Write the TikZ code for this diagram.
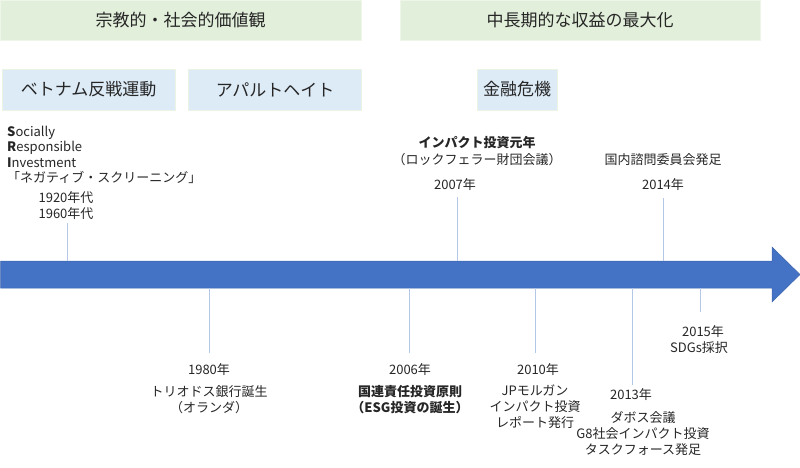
\documentclass[tikz,border=0pt]{standalone}
\usepackage{fontspec}
\setmainfont{Noto Sans CJK JP}
\usetikzlibrary{positioning}
\definecolor{valueFl}{HTML}{E2EFDA}
\definecolor{valueBd}{HTML}{EEF6E9}
\definecolor{eventFl}{HTML}{DDEBF7}
\definecolor{eventBd}{HTML}{EAF3E4}
\definecolor{axisFl}{HTML}{4472C4}
\definecolor{axisBd}{HTML}{3F66AE}
\definecolor{tickClr}{HTML}{B4C7E7}
\definecolor{txtClr}{HTML}{262626}
\newcommand{\hd}{\fontsize{17}{20}\selectfont}
\newcommand{\tx}{\fontsize{13}{16}\selectfont}

\begin{document}
\begin{tikzpicture}[
  x=1pt, y=-1pt,
  valuebox/.style={draw=valueBd, fill=valueFl, line width=0.6pt,
                   minimum height=40pt, inner sep=0pt, font=\hd, text=txtClr},
  eventbox/.style={draw=eventBd, fill=eventFl, line width=0.6pt,
                   minimum height=41pt, inner sep=0pt, font=\hd, text=txtClr},
  label/.style={inner sep=0pt, font=\tx, text=txtClr, align=center},
  tick/.style={draw=tickClr, line width=0.9pt},
]
\useasboundingbox (0,0) rectangle (800,467);

% ---------- value bands ----------
\node[valuebox, minimum width=361pt] (social) at (180.5,20) {宗教的・社会的価値観};
\node[valuebox, minimum width=360pt] (profit) at (580,20) {中長期的な収益の最大化};

% ---------- events ----------
\node[eventbox, minimum width=173pt] (vietnam) at (88.5,89.5) {ベトナム反戦運動};
\node[eventbox, minimum width=173pt, right=13pt of vietnam] (apartheid) {アパルトヘイト};
\node[eventbox, minimum width=80pt] (crisis) at (517,89.5) {金融危機};

% ---------- time axis ----------
\draw[draw=axisBd, fill=axisFl, line width=0.5pt]
  (0.5,261) -- (772,261) -- (772,247) -- (800,274.5) -- (772,302)
  -- (772,288) -- (0.5,288) -- cycle;
\coordinate (top) at (0,261);
\coordinate (bot) at (0,288);

% ---------- above the axis ----------
\node[label, anchor=west, align=left, font=\fontsize{13}{15.5}\selectfont] (sri) at (7,155)
  {\textbf{S}ocially\\ \textbf{R}esponsible\\ \textbf{I}nvestment\\ 「ネガティブ・スクリーニング」};
\node[label, align=left] (y1920) at (66,205.5) {1920年代\\1960年代};
\coordinate (e1920) at (67,223);

\node[label, font=\fontsize{13}{17}\selectfont] (d2007) at (477,151.5)
  {\textbf{インパクト投資元年}\\（ロックフェラー財団会議）};
\node[label] (y2007) at (455,185) {2007年};
\coordinate (e2007) at (457,197);

\node[label] (d2014) at (663,160) {国内諮問委員会発足};
\node[label] (y2014) at (663,185) {2014年};
\coordinate (e2014) at (663,198);

% ---------- below the axis ----------
\node[label] (y1980) at (209,370) {1980年};
\node[label] (d1980) at (209,400) {トリオドス銀行誕生\\（オランダ）};
\coordinate (e1980) at (209,353);

\node[label] (y2006) at (410,370) {2006年};
\node[label] (d2006) at (410,400) {\textbf{国連責任投資原則}\\\textbf{（ESG投資の誕生）}};
\coordinate (e2006) at (409,353);

\node[label] (y2010) at (538,370) {2010年};
\node[label] (d2010) at (535,407) {JPモルガン\\インパクト投資\\レポート発行};
\coordinate (e2010) at (535,353);

\node[label] (y2013) at (631,395) {2013年};
\node[label] (d2013) at (643,433.5) {ダボス会議\\G8社会インパクト投資\\タスクフォース発足};
\coordinate (e2013) at (632,385);

\node[label] (y2015) at (703,332) {2015年};
\node[label] (d2015) at (699,348) {SDGs採択};
\coordinate (e2015) at (700,312);

% ---------- ticks ----------
\foreach \t/\s in {1920/top, 2007/top, 2014/top} {
  \draw[tick] (e\t) -- (e\t |- \s);
}
\foreach \t/\s in {1980/bot, 2006/bot, 2010/bot, 2013/bot, 2015/bot} {
  \draw[tick] (e\t) -- (e\t |- \s);
}

\end{tikzpicture}
\end{document}
